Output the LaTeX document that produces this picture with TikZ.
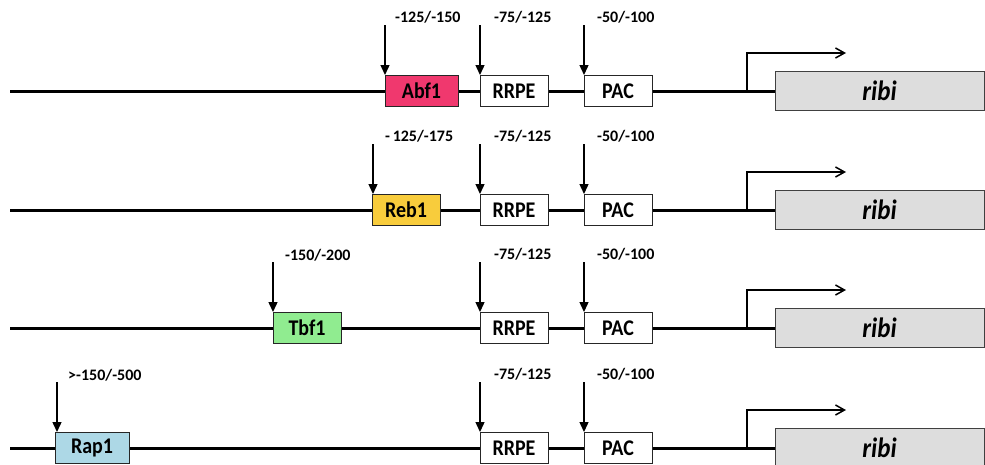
\documentclass[tikz,border=0pt]{standalone}
\usepackage{fontspec}
\setmainfont{Carlito}
\usetikzlibrary{arrows.meta}
\definecolor{abfc}{RGB}{240,56,110}
\definecolor{rebc}{RGB}{248,204,60}
\definecolor{tbfc}{RGB}{144,236,144}
\definecolor{rapc}{RGB}{173,216,230}
\definecolor{ribc}{RGB}{221,221,221}
\newcommand{\tallbox}[1]{\scalebox{1}[1.12]{#1}}
\tikzset{
  dna/.style={line width=3pt,black},
  site/.style={draw=black!85,line width=1pt,minimum height=31,minimum width=68,inner sep=0pt,fill=white,
    font=\fontsize{20}{20}\selectfont\bfseries},
  ribibox/.style={draw=black!75,line width=1pt,fill=ribc,minimum height=39,minimum width=209,inner sep=0pt,
    font=\fontsize{25}{25}\selectfont\bfseries\itshape},
  poslabel/.style={anchor=west,inner sep=0pt,font=\fontsize{16}{16}\selectfont\bfseries},
  bind/.style={line width=1.4pt,arrows={-Triangle[length=10pt,width=9pt,fill=black]}},
  tss/.style={line width=1.5pt,-{Straight Barb[length=9pt,width=10pt]}}
}
\begin{document}
\begin{tikzpicture}[x=1pt,y=-1pt]
\useasboundingbox (0,0) rectangle (985,464);
\foreach \r/\y in {1/91,2/210,3/328,4/448}{
  \coordinate (start\r) at (10,\y);
  \node[ribibox] (ribi\r) at (879.5,\y) {\tallbox{ribi}};
  \draw[dna] (start\r) -- (ribi\r.west);
  \coordinate (tsb\r) at (747,\y);
  \coordinate (tse\r) at (846,\y-38);
  \draw[tss] (tsb\r) |- (tse\r);
  \node[site] (rrpe\r) at (514,\y) {\tallbox{RRPE}};
  \node[site] (pac\r) at (618,\y) {\tallbox{PAC}};
  \coordinate (rrpet\r) at (480,\y-66);
  \coordinate (pact\r) at (584,\y-66);
  \draw[bind] (rrpet\r) -- (rrpet\r |- rrpe\r.north);
  \draw[bind] (pact\r) -- (pact\r |- pac\r.north);
  \node[poslabel] (rrpel\r) at (494,\y-74) {-75/-125};
  \node[poslabel] (pacl\r) at (597,\y-74) {-50/-100};
}
% factor boxes
\node[site,fill=abfc,minimum width=73] (abf1) at (421.5,91) {\tallbox{Abf1}};
\node[site,fill=rebc] (reb1) at (406,210) {\tallbox{Reb1}};
\node[site,fill=tbfc] (tbf1) at (307,328) {\tallbox{Tbf1}};
\node[site,fill=rapc,minimum width=74] (rap1) at (92,448) {\tallbox{Rap1}};
\coordinate (abf1t) at (385,25);
\coordinate (reb1t) at (373,144);
\coordinate (tbf1t) at (273,262);
\coordinate (rap1t) at (57,382);
\draw[bind] (abf1t) -- (abf1t |- abf1.north);
\draw[bind] (reb1t) -- (reb1t |- reb1.north);
\draw[bind] (tbf1t) -- (tbf1t |- tbf1.north);
\draw[bind] (rap1t) -- (rap1t |- rap1.north);
\node[poslabel] (abf1l) at (395,17) {-125/-150};
\node[poslabel] (reb1l) at (385,136) {-\,125/-175};
\node[poslabel] (tbf1l) at (285,255) {-150/-200};
\node[poslabel] (rap1l) at (68,375) {>-150/-500};
\end{tikzpicture}
\end{document}
